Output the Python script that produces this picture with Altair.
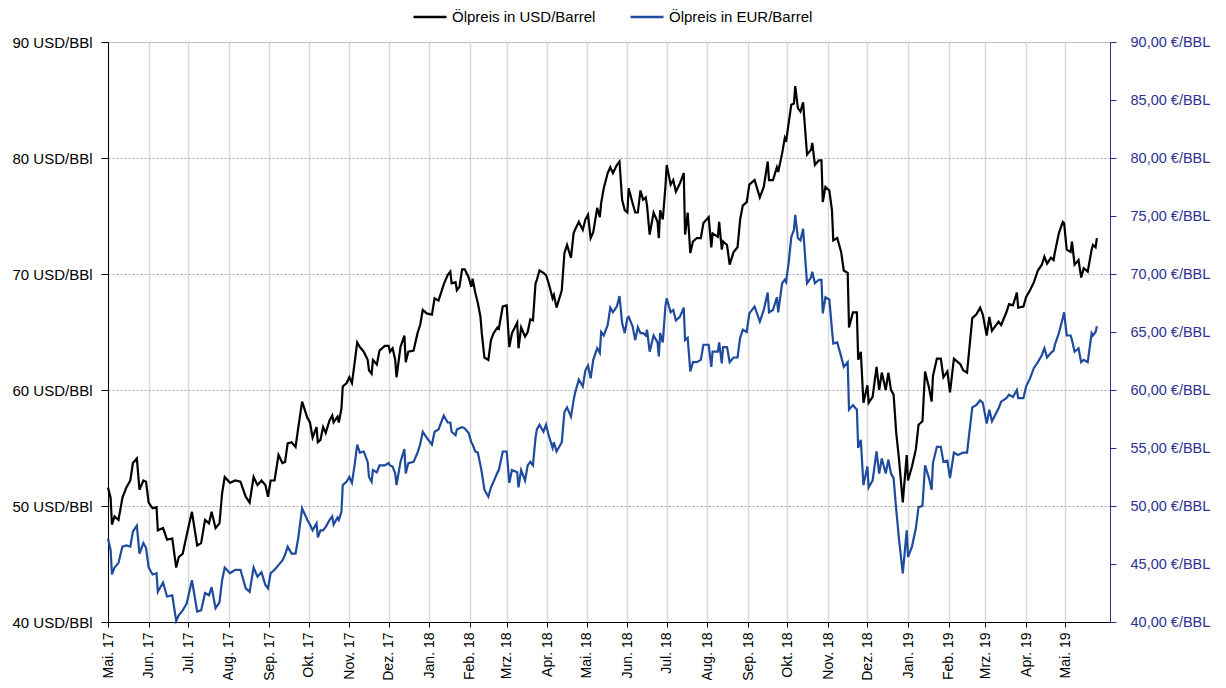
import altair as alt
import pandas as pd

# trading-day offsets (days after 1 May 2017)
days = [
    0, 2, 3, 5, 8, 11, 14, 17, 19, 22,
    24, 27, 29, 31, 34, 37, 38, 42, 45, 49,
    52, 54, 57, 60, 64, 68, 71, 74, 77, 79,
    82, 85, 87, 89, 93, 97, 101, 105, 108, 111,
    114, 117, 120, 122, 124, 127, 130, 133, 135, 137,
    140, 143, 145, 148, 152, 154, 156, 159, 160, 162,
    164, 166, 169, 171, 172, 175, 176, 178, 179, 182,
    184, 186, 188, 190, 192, 195, 198, 199, 201, 202,
    205, 207, 211, 214, 215, 217, 219, 220, 223, 226,
    227, 229, 233, 236, 238, 240, 243, 247, 249, 252,
    256, 259, 261, 262, 265, 266, 268, 270, 272, 275,
    277, 278, 280, 282, 284, 285, 287, 290, 292, 294,
    297, 298, 301, 304, 306, 308, 312, 313, 315, 318,
    320, 322, 324, 326, 327, 329, 332, 334, 336, 339,
    340, 342, 346, 348, 350, 353, 355, 356, 359, 362,
    364, 366, 368, 370, 373, 375, 376, 378, 381, 383,
    385, 388, 390, 392, 394, 396, 397, 400, 402, 404,
    406, 408, 410, 411, 413, 416, 419, 420, 421, 423,
    425, 426, 429, 431, 433, 436, 439, 440, 442, 444,
    446, 449, 452, 454, 458, 460, 461, 465, 466, 468,
    469, 472, 474, 477, 480, 482, 484, 487, 489, 493,
    497, 500, 503, 504, 507, 510, 511, 514, 516, 517,
    519, 521, 523, 524, 526, 528, 530, 533, 536, 537,
    539, 542, 544, 545, 547, 550, 552, 553, 556, 559,
    561, 564, 565, 568, 571, 572, 574, 576, 579, 580,
    583, 586, 588, 590, 593, 595, 597, 599, 601, 603,
    606, 609, 610, 613, 616, 618, 621, 623, 626, 628,
    629, 632, 635, 637, 640, 642, 645, 648, 650, 652,
    655, 659, 662, 665, 667, 670, 672, 674, 679, 681,
    685, 687, 690, 693, 694, 698, 700, 703, 706, 709,
    712, 714, 716, 719, 721, 722, 725, 728, 729, 731,
    734, 735, 737, 740, 742, 744, 747, 750, 751, 753,
    754,
]

usd = [
    51.6, 50.7, 48.4, 49.1, 48.8, 50.7, 51.6, 52.2, 53.7, 54.1,
    51.4, 52.2, 52.1, 50.3, 49.8, 49.9, 47.9, 48.1, 47.1, 47.2,
    44.7, 45.6, 45.9, 47.5, 49.5, 46.6, 46.8, 48.8, 48.5, 49.5,
    48.1, 48.5, 51.1, 52.5, 52.0, 52.2, 52.1, 50.8, 50.3, 52.5,
    51.8, 52.2, 51.8, 50.8, 52.2, 52.2, 54.4, 53.7, 53.8, 55.4,
    55.5, 55.1, 56.7, 59.0, 57.6, 57.2, 55.9, 56.8, 55.5, 55.7,
    56.8, 56.3, 57.4, 57.8, 57.2, 57.7, 57.2, 58.4, 60.3, 60.6,
    61.1, 60.6, 62.3, 64.1, 63.7, 63.3, 62.6, 61.7, 61.4, 62.6,
    62.2, 63.4, 63.8, 63.8, 63.3, 63.6, 62.6, 61.1, 63.7, 64.7,
    62.4, 63.3, 63.4, 64.9, 65.6, 66.9, 66.6, 66.5, 67.9, 67.7,
    69.1, 69.9, 70.2, 69.2, 69.3, 68.6, 68.9, 70.4, 70.4, 69.7,
    68.9, 69.6, 68.4, 67.5, 66.3, 64.9, 62.8, 62.6, 64.3, 64.9,
    65.4, 65.3, 67.2, 67.3, 63.7, 64.9, 65.8, 63.6, 65.4, 64.6,
    65.0, 66.1, 66.0, 69.2, 69.5, 70.3, 70.1, 69.9, 69.2, 67.9,
    68.2, 67.1, 68.6, 71.8, 72.5, 71.4, 73.5, 73.8, 74.5, 73.8,
    74.7, 75.1, 73.1, 73.6, 75.7, 74.9, 76.1, 77.4, 78.7, 79.2,
    78.7, 79.4, 79.7, 76.4, 75.5, 75.3, 77.4, 76.1, 75.3, 75.3,
    77.2, 76.4, 76.6, 75.9, 73.4, 75.3, 74.5, 73.1, 75.5, 74.7,
    77.5, 79.4, 77.7, 78.1, 77.1, 77.8, 78.7, 73.4, 75.3, 71.8,
    72.8, 73.1, 73.1, 74.4, 74.9, 72.3, 73.5, 73.2, 74.5, 72.1,
    72.8, 72.5, 70.8, 71.9, 72.3, 74.7, 75.9, 76.2, 77.7, 78.1,
    76.6, 77.5, 79.7, 78.1, 78.1, 79.2, 78.8, 80.4, 81.7, 81.4,
    83.0, 84.6, 84.7, 86.2, 84.3, 84.0, 84.8, 80.3, 80.7, 81.3,
    79.4, 79.8, 79.8, 76.2, 77.5, 77.2, 75.5, 72.9, 73.1, 71.9,
    70.3, 70.1, 65.4, 66.7, 66.7, 62.6, 63.3, 58.9, 60.4, 58.9,
    59.4, 62.0, 60.0, 61.5, 60.0, 61.5, 60.0, 59.6, 56.3, 54.2,
    50.3, 54.4, 52.2, 53.4, 54.9, 57.0, 57.3, 61.6, 60.2, 59.0,
    61.2, 62.7, 62.7, 61.1, 61.6, 59.8, 62.7, 62.4, 62.2, 61.7,
    61.5, 66.2, 66.5, 67.1, 66.5, 64.7, 66.3, 65.1, 65.9, 65.6,
    66.7, 67.4, 67.3, 68.4, 67.1, 67.2, 68.0, 68.6, 69.3, 70.3,
    70.8, 71.5, 70.9, 71.4, 71.2, 71.9, 73.5, 74.5, 74.4, 72.1,
    71.9, 72.8, 70.8, 71.2, 69.7, 70.5, 70.2, 72.1, 72.5, 72.3,
    73.1,
]

eur = [
    47.2, 46.2, 44.1, 44.7, 45.1, 46.5, 46.6, 46.5, 47.8, 48.3,
    45.9, 46.8, 46.4, 44.7, 44.1, 44.2, 42.6, 43.4, 42.2, 42.3,
    40.1, 40.6, 41.0, 41.6, 43.6, 40.9, 41.0, 42.5, 42.3, 43.0,
    41.2, 41.7, 43.6, 44.7, 44.2, 44.5, 44.5, 42.9, 42.6, 44.7,
    43.9, 44.3, 43.2, 42.9, 44.2, 44.5, 44.9, 45.3, 45.8, 46.5,
    45.9, 45.9, 47.2, 49.8, 48.8, 48.4, 47.9, 48.5, 47.3, 47.9,
    47.9, 48.2, 48.8, 49.1, 48.4, 49.0, 48.8, 49.5, 51.8, 52.1,
    52.5, 52.0, 53.5, 55.3, 54.6, 54.7, 53.8, 52.5, 52.1, 53.1,
    52.9, 53.5, 53.5, 53.7, 53.5, 53.4, 52.8, 51.8, 53.8, 54.9,
    52.8, 53.7, 53.8, 54.6, 55.3, 56.4, 55.9, 55.3, 56.4, 56.6,
    57.8, 57.2, 57.2, 56.4, 56.1, 56.6, 56.7, 56.8, 56.7, 56.3,
    55.5, 55.3, 54.7, 54.6, 53.5, 52.9, 51.4, 50.8, 51.6, 52.1,
    52.9, 53.1, 54.7, 54.7, 52.0, 53.1, 52.9, 51.6, 53.1, 52.2,
    53.5, 53.8, 53.5, 55.9, 56.6, 57.0, 56.4, 57.0, 56.1, 55.0,
    55.5, 54.7, 55.5, 58.1, 58.5, 57.7, 59.1, 59.7, 60.9, 60.3,
    61.7, 62.1, 61.0, 62.6, 63.6, 63.2, 65.0, 64.7, 65.6, 67.1,
    66.7, 67.2, 68.1, 65.8, 64.9, 66.2, 66.3, 65.5, 64.3, 65.4,
    64.9, 64.9, 64.7, 65.2, 63.3, 64.7, 64.1, 62.9, 64.9, 64.1,
    67.2, 67.9, 66.7, 66.9, 66.0, 66.3, 67.1, 64.3, 64.5, 61.6,
    62.4, 62.4, 62.6, 63.9, 63.9, 62.0, 63.3, 63.3, 64.1, 62.3,
    63.7, 63.7, 62.4, 62.8, 62.8, 64.5, 65.2, 65.0, 66.6, 67.2,
    65.9, 66.9, 68.4, 66.7, 66.9, 68.0, 66.7, 69.2, 69.5, 69.3,
    71.0, 73.2, 73.8, 75.1, 73.1, 72.9, 73.9, 69.2, 69.7, 70.2,
    69.2, 69.5, 69.5, 66.6, 68.0, 67.8, 65.2, 64.0, 64.1, 62.9,
    62.0, 62.4, 58.3, 58.7, 58.3, 55.0, 55.7, 51.8, 53.4, 51.6,
    52.2, 54.7, 52.8, 54.1, 52.8, 54.0, 52.8, 52.4, 49.7, 47.3,
    44.2, 47.9, 45.6, 46.5, 48.1, 49.9, 50.0, 53.5, 52.4, 51.4,
    53.7, 55.1, 55.1, 53.8, 53.9, 52.4, 54.6, 54.4, 54.5, 54.6,
    54.6, 58.5, 58.7, 59.1, 58.9, 57.1, 58.3, 57.3, 58.4, 59.0,
    59.3, 59.6, 59.4, 60.0, 59.3, 59.3, 60.3, 61.0, 61.9, 62.4,
    63.0, 63.6, 62.8, 63.2, 63.4, 63.9, 64.9, 66.2, 66.7, 64.7,
    64.7, 64.3, 63.3, 63.6, 62.4, 62.6, 62.4, 64.9, 64.7, 65.0,
    65.5,
]

series_names = ["Ölpreis in USD/Barrel", "Ölpreis in EUR/Barrel"]
series_colors = ["#000000", "#1e4b9b"]
usd_ticks = [40, 50, 60, 70, 80, 90]
eur_ticks = [40, 45, 50, 55, 60, 65, 70, 75, 80, 85, 90]
month_names = ["Jan.", "Feb.", "Mrz.", "Apr.", "Mai.", "Jun.", "Jul.",
               "Aug.", "Sep.", "Okt.", "Nov.", "Dez."]
tick_months = [(2017, m) for m in range(5, 13)] + [(2018, m) for m in range(1, 13)] + [(2019, m) for m in range(1, 6)]

dates = (pd.Timestamp("2017-05-01") + pd.to_timedelta(days, unit="D")).strftime("%Y-%m-%d")
df = pd.concat([
    pd.DataFrame({"date": dates, "value": usd, "series": series_names[0]}),
    pd.DataFrame({"date": dates, "value": eur, "series": series_names[1]}),
], ignore_index=True)

FONT = "Liberation Sans"
AXIS_BLUE = "#2e3192"

month_js = "[" + ",".join("'%s'" % m for m in month_names) + "]"
x_enc = alt.X(
    "date:T",
    scale=alt.Scale(type="utc", domain=[alt.DateTime(year=2017, month=5, date=1, utc=True),
                                        alt.DateTime(year=2019, month=6, date=4, utc=True)]),
    axis=alt.Axis(
        values=[alt.DateTime(year=y, month=m, date=1, utc=True) for y, m in tick_months],
        labelExpr=month_js + "[utcmonth(datum.value)] + ' ' + utcFormat(datum.value, '%y')",
        labelAngle=-90, labelFontSize=14, labelFont=FONT, labelColor="#000000",
        labelPadding=5, tickSize=5, tickColor="#000000", domainColor="#000000",
        grid=True, gridColor="#d9d9d9", gridWidth=1.5, title=None,
    ),
)

color_enc = alt.Color(
    "series:N",
    scale=alt.Scale(domain=series_names, range=series_colors),
    legend=alt.Legend(
        orient="none", legendX=304, legendY=-43, direction="horizontal", title=None,
        symbolType="stroke", symbolSize=1089, symbolStrokeWidth=2.5,
        labelFontSize=15, labelFont=FONT, labelColor="#000000",
        columnPadding=29, labelOffset=4, padding=0,
    ),
)

base = alt.Chart(df)

usd_line = base.transform_filter(alt.datum.series == series_names[0]).mark_line(strokeWidth=2.2).encode(
    x=x_enc,
    y=alt.Y("value:Q", scale=alt.Scale(domain=[40, 90], nice=False, zero=False),
            axis=alt.Axis(orient="left", values=usd_ticks,
                          labelExpr="datum.value + ' USD/BBl'",
                          labelFontSize=15, labelFont=FONT, labelColor="#000000",
                          labelPadding=9, tickSize=7, tickColor="#000000", domainColor="#000000",
                          grid=True, gridColor="#a6a6a6", gridDash=[2, 2], gridWidth=1, title=None)),
    color=color_enc,
)

eur_line = base.transform_filter(alt.datum.series == series_names[1]).mark_line(strokeWidth=2.2).encode(
    x=x_enc,
    y=alt.Y("value:Q", scale=alt.Scale(domain=[40, 90], nice=False, zero=False),
            axis=alt.Axis(orient="right", values=eur_ticks,
                          labelExpr="replace(format(datum.value, '.2f'), '.', ',') + ' €/BBL'",
                          labelFontSize=14.5, labelFont=FONT, labelColor=AXIS_BLUE,
                          labelPadding=14, tickSize=6, tickColor=AXIS_BLUE, domainColor=AXIS_BLUE,
                          grid=False, title=None)),
    color=color_enc,
)

chart = alt.layer(usd_line, eur_line).resolve_scale(y="independent").properties(
    width=1002, height=580,
    padding={"left": 100, "top": 34, "right": 108, "bottom": 58},
    autosize=alt.AutoSizeParams(type="none"),
).configure_view(strokeWidth=0).configure(font=FONT)

chart.save("out.html", embed_options={"renderer": "svg", "actions": False})
